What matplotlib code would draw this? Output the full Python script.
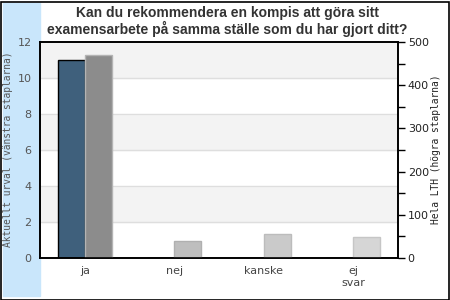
import numpy as np
import matplotlib.pyplot as plt
from matplotlib.ticker import MultipleLocator
from matplotlib.patches import Rectangle

# Data
categories = ["ja", "nej", "kanske", "ej\nsvar"]
urval = [11, 0, 0, 0]            # left axis (Aktuellt urval)
hela_lth = [470, 39, 56, 49]     # right axis (Hela LTH)

right_colors = ["#8c8c8c", "#bebebe", "#cacaca", "#d6d6d6"]
right_edges = ["#b4b4b4", "#b0b0b0", "#bcbcbc", "#c6c6c6"]

fig = plt.figure(figsize=(4.5, 3), dpi=100)

# light blue strip on the left and frame round the figure
fig.patches.append(Rectangle((3 / 450, 4 / 300), 37 / 450, 293 / 300,
                             transform=fig.transFigure, color="#c9e6fb", zorder=-2))
fig.patches.append(Rectangle((0.5 / 450, 0.5 / 300), 448 / 450, 298 / 300,
                             transform=fig.transFigure, fill=False,
                             edgecolor="black", linewidth=1.2, zorder=-1))

ax = fig.add_axes([40 / 450, 42 / 300, 358 / 450, 216 / 300])
ax2 = ax.twinx()

x = np.arange(len(categories))
w = 0.3

# alternating background bands
for lo in range(0, 12, 2):
    ax.axhspan(lo, lo + 2, color="#f3f3f3" if (lo // 2) % 2 == 1 else "white", zorder=0)
for yv in range(2, 12, 2):
    ax.axhline(yv, color="#dedede", linewidth=1, zorder=0.5)

ax.bar(x - w / 2, urval, w, color="#3f607c", edgecolor="black", linewidth=1, zorder=2)
ax2.bar(x + w / 2, hela_lth, w, color=right_colors, edgecolor=right_edges, linewidth=1, zorder=2)

ax.set_xlim(-0.5, len(categories) - 0.5)
ax.set_ylim(0, 12)
ax2.set_ylim(0, 500)

ax.set_yticks(range(0, 13, 2))
ax.tick_params(axis="y", length=0, pad=6, labelsize=8, labelcolor="#555555")
ax.set_xticks(x)
ax.set_xticklabels(categories)
ax.tick_params(axis="x", length=0, pad=6, labelsize=8, labelcolor="#444444")

ax2.yaxis.set_major_locator(MultipleLocator(100))
ax2.yaxis.set_minor_locator(MultipleLocator(50))
ax2.tick_params(axis="y", which="both", direction="out", length=5, width=1,
                pad=2, labelsize=8, labelcolor="#222222")

for sp in ax.spines.values():
    sp.set_linewidth(1.2)
for sp in ax2.spines.values():
    sp.set_linewidth(1.2)

fig.text(8 / 450, 151 / 300, "Aktuellt urval (vänstra staplarna)", rotation=90,
         ha="center", va="center", family="DejaVu Sans Mono", fontsize=6.9, color="#555555")
fig.text(436 / 450, 151 / 300, "Hela LTH (högra staplarna)", rotation=90,
         ha="center", va="center", family="DejaVu Sans Mono", fontsize=6.9, color="#222222")

fig.text(0.505, 1 - 21.5 / 300, "Kan du rekommendera en kompis att göra sitt\n"
         "examensarbete på samma ställe som du har gjort ditt?",
         ha="center", va="center", family="Liberation Sans", fontweight="bold",
         fontsize=10.0, color="#333333", linespacing=1.05)

fig.savefig("out.png", dpi=100)
